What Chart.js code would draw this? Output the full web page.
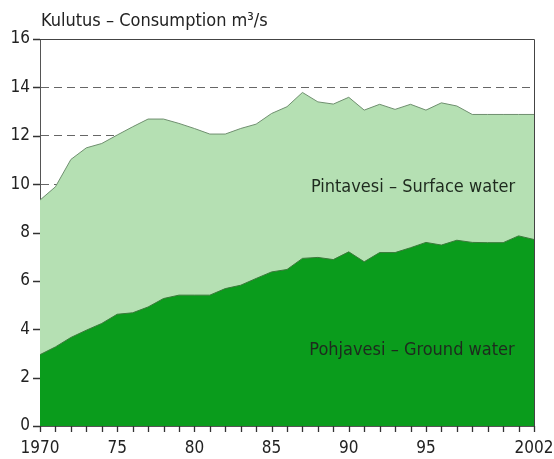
<!DOCTYPE html>
<html>
<head>
<meta charset="utf-8">
<script src="https://cdn.jsdelivr.net/npm/chart.js@4/dist/chart.umd.min.js"></script>
<style>
html,body{margin:0;padding:0;background:#fff;}
#c{display:block;}
</style>
</head>
<body>
<canvas id="c" width="554" height="459"></canvas>
<script>
const years = [1970,1971,1972,1973,1974,1975,1976,1977,1978,1979,1980,1981,1982,1983,1984,1985,1986,1987,1988,1989,1990,1991,1992,1993,1994,1995,1996,1997,1998,1999,2000,2001,2002];
const groundWater = [2.95,3.27,3.66,3.96,4.24,4.62,4.68,4.92,5.27,5.41,5.41,5.41,5.68,5.82,6.10,6.37,6.47,6.93,6.97,6.88,7.20,6.79,7.17,7.17,7.37,7.59,7.48,7.68,7.59,7.58,7.58,7.86,7.71];
const totalConsumption = [9.34,9.89,11.02,11.50,11.68,12.03,12.37,12.69,12.69,12.51,12.30,12.07,12.07,12.30,12.48,12.92,13.20,13.79,13.40,13.31,13.59,13.06,13.30,13.09,13.30,13.06,13.36,13.23,12.88,12.88,12.88,12.88,12.88];
const yTicks = [0,2,4,6,8,10,12,14,16];
const xTickYears = [1970,1975,1980,1985,1990,1995,2002];
const xTickLabels = ['1970','75','80','85','90','95','2002'];
const titleText = 'Kulutus – Consumption m³/s';
const surfaceLabel = 'Pintavesi – Surface water';
const groundLabel = 'Pohjavesi – Ground water';

const FONT = "'Liberation Sans Narrow', 'DejaVu Sans Condensed', 'Liberation Sans', sans-serif";
Chart.defaults.font.family = FONT;
Chart.defaults.font.size = 17;
Chart.defaults.color = '#222';

const decor = {
  id: 'decor',
  afterDraw(chart) {
    const {ctx, chartArea: a} = chart;
    const xs = chart.scales.x, ys = chart.scales.y;
    ctx.save();
    ctx.strokeStyle = '#444';
    ctx.lineWidth = 1;
    ctx.setLineDash([]);
    ctx.beginPath();
    ctx.moveTo(a.left, a.top + 0.5);
    ctx.lineTo(Math.round(a.right) + 0.5, a.top + 0.5);
    ctx.lineTo(Math.round(a.right) + 0.5, a.bottom);
    ctx.stroke();
    ctx.strokeStyle = '#333';
    ctx.lineWidth = 1.3;
    ctx.beginPath();
    years.forEach(v => {
      const px = Math.round(xs.getPixelForValue(v)) + 0.5;
      ctx.moveTo(px, a.bottom);
      ctx.lineTo(px, a.bottom + 6);
    });
    yTicks.forEach(v => {
      const py = Math.round(ys.getPixelForValue(v)) + 0.5;
      ctx.moveTo(a.left - 7, py);
      ctx.lineTo(a.left, py);
    });
    ctx.stroke();
    ctx.fillStyle = '#1e2a1e';
    ctx.font = "18px " + FONT;
    ctx.textAlign = 'center';
    ctx.textBaseline = 'middle';
    ctx.fillText(surfaceLabel, 413, 187);
    ctx.fillText(groundLabel, 412, 350);
    ctx.fillStyle = '#222';
    ctx.textAlign = 'left';
    ctx.fillText(titleText, 41, 21);
    ctx.restore();
  }
};

new Chart(document.getElementById('c'), {
  type: 'line',
  data: {
    labels: years,
    datasets: [
      {
        label: 'Total',
        data: years.map((y,i)=>({x:y, y: totalConsumption[i]})),
        fill: 'origin',
        backgroundColor: '#b5e0b3',
        borderColor: '#6f8f6f',
        borderWidth: 1,
        pointRadius: 0,
        tension: 0,
        order: 2
      },
      {
        label: 'Ground',
        data: years.map((y,i)=>({x:y, y: groundWater[i]})),
        fill: 'origin',
        backgroundColor: '#0a9c1c',
        borderColor: '#3a7a3a',
        borderWidth: 1,
        pointRadius: 0,
        tension: 0,
        order: 1
      }
    ]
  },
  options: {
    responsive: false,
    animation: false,
    events: [],
    layout: {padding: {top: 39, right: 20, left: 0, bottom: 0}},
    plugins: {legend: {display: false}, tooltip: {enabled: false}, title: {display: false}},
    scales: {
      x: {
        type: 'linear',
        min: 1970, max: 2002,
        afterBuildTicks(scale) { scale.ticks = years.map(v => ({value: v})); },
        afterFit(scale) { scale.height = 33; scale.paddingLeft = 0; scale.paddingRight = 0; },
        ticks: {
          autoSkip: false,
          maxRotation: 0,
          padding: 6,
          color: '#222',
          callback(v) { const k = xTickYears.indexOf(v); return k >= 0 ? xTickLabels[k] : ''; }
        },
        grid: {drawOnChartArea: false, drawTicks: true, tickLength: 6, color: 'rgba(0,0,0,0)'},
        border: {display: true, color: '#555', width: 1}
      },
      y: {
        min: 0, max: 16,
        afterBuildTicks(scale) { scale.ticks = yTicks.map(v => ({value: v})); },
        afterFit(scale) { scale.width = 40; },
        ticks: {padding: 3, color: '#222'},
        grid: {drawOnChartArea: true, drawTicks: true, tickLength: 7, color: '#666', tickColor: 'rgba(0,0,0,0)'},
        border: {display: true, color: '#555', width: 1, dash: [8,5]}
      }
    }
  },
  plugins: [decor]
});
</script>
</body>
</html>
